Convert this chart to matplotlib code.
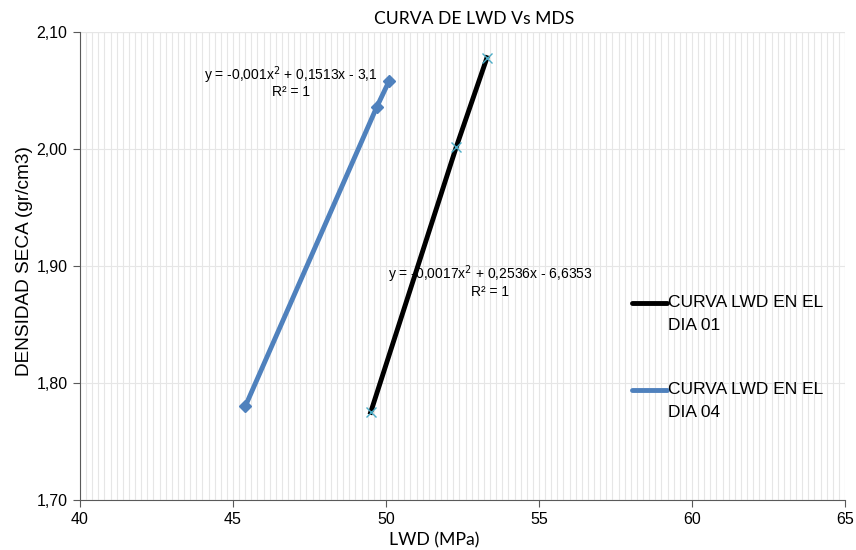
import numpy as np
import matplotlib
matplotlib.use("Agg")
import matplotlib.pyplot as plt
from matplotlib.ticker import MultipleLocator, FuncFormatter

plt.rcParams['font.family'] = ['Liberation Sans', 'DejaVu Sans']

# data
lwd_dia01 = [49.5, 52.3, 53.3]
dens_dia01 = [1.775, 2.002, 2.078]
lwd_dia04 = [45.4, 49.7, 50.1]
dens_dia04 = [1.780, 2.036, 2.058]
labels = ["CURVA LWD EN EL\nDIA 01", "CURVA LWD EN EL\nDIA 04"]
eq01 = "y = -0,0017x$^2$ + 0,2536x - 6,6353\nR² = 1"
eq04 = "y = -0,001x$^2$ + 0,1513x - 3,1\nR² = 1"
colors = ["black", "#4f81bd"]

fig = plt.figure(figsize=(8.56, 5.5), dpi=100)
ax = fig.add_axes([80 / 856, 1 - 500 / 550, 765 / 856, 468 / 550])

ax.plot(lwd_dia01, dens_dia01, color=colors[0], lw=3.5, marker="x", ms=7,
        mec="#4bacc6", mew=1.0, zorder=3)
ax.plot(lwd_dia04, dens_dia04, color=colors[1], lw=3.5, marker="D", ms=6,
        mfc=colors[1], mec=colors[1], zorder=3)

ax.set_xlim(40, 65)
ax.set_ylim(1.70, 2.10)
ax.xaxis.set_major_locator(MultipleLocator(5))
ax.xaxis.set_minor_locator(MultipleLocator(0.2))
ax.yaxis.set_major_locator(MultipleLocator(0.1))
ax.yaxis.set_major_formatter(FuncFormatter(lambda v, p: f"{v:.2f}".replace(".", ",")))
ax.grid(which="minor", axis="x", color="#e6e6e6", lw=0.8)
ax.grid(which="major", axis="y", color="#e6e6e6", lw=0.8)
ax.grid(which="major", axis="x", color="#e6e6e6", lw=0.8)
ax.tick_params(which="minor", length=0)
ax.tick_params(which="major", length=5, color="#595959", labelsize=11.5, direction="out", pad=4)
for s in ["top", "right"]:
    ax.spines[s].set_visible(False)
for s in ["left", "bottom"]:
    ax.spines[s].set_color("#595959")
ax.axhline(2.10, color="#e6e6e6", lw=0.8, zorder=0)
ax.axvline(65, color="#e6e6e6", lw=0.8, zorder=0)

lab_font = ['Lato', 'DejaVu Sans']
ax.set_title("CURVA DE LWD Vs MDS", fontsize=12.6, family=lab_font, x=0.515, y=1.0, pad=6)
ax.set_xlabel("LWD (MPa)", fontsize=12.7, family=lab_font)
ax.xaxis.set_label_coords(0.4627, -0.068)
ax.set_ylabel("DENSIDAD SECA (gr/cm3)", fontsize=13.7)
ax.yaxis.set_label_coords(-0.0614, 0.511)

ax.text(46.9, 2.0577, eq04, fontsize=10, ha="center", va="center",
        multialignment="center", linespacing=0.95)
ax.text(53.4, 1.887, eq01, fontsize=10, ha="center", va="center",
        multialignment="center", linespacing=0.95)

# legend: line handle next to the first text line, as in the original
for i, (lab, c) in enumerate(zip(labels, colors)):
    y0 = 1 - (303 - 32 + i * 87) / 468
    ax.plot([(632 - 80) / 765, (667 - 80) / 765], [y0, y0], color=c, lw=3.5,
            transform=ax.transAxes, clip_on=False, solid_capstyle="round")
    ax.text((668 - 80) / 765, y0 + 8 / 468, lab, transform=ax.transAxes,
            fontsize=12.5, va="top", ha="left", linespacing=1.66)

fig.savefig("out.png")
